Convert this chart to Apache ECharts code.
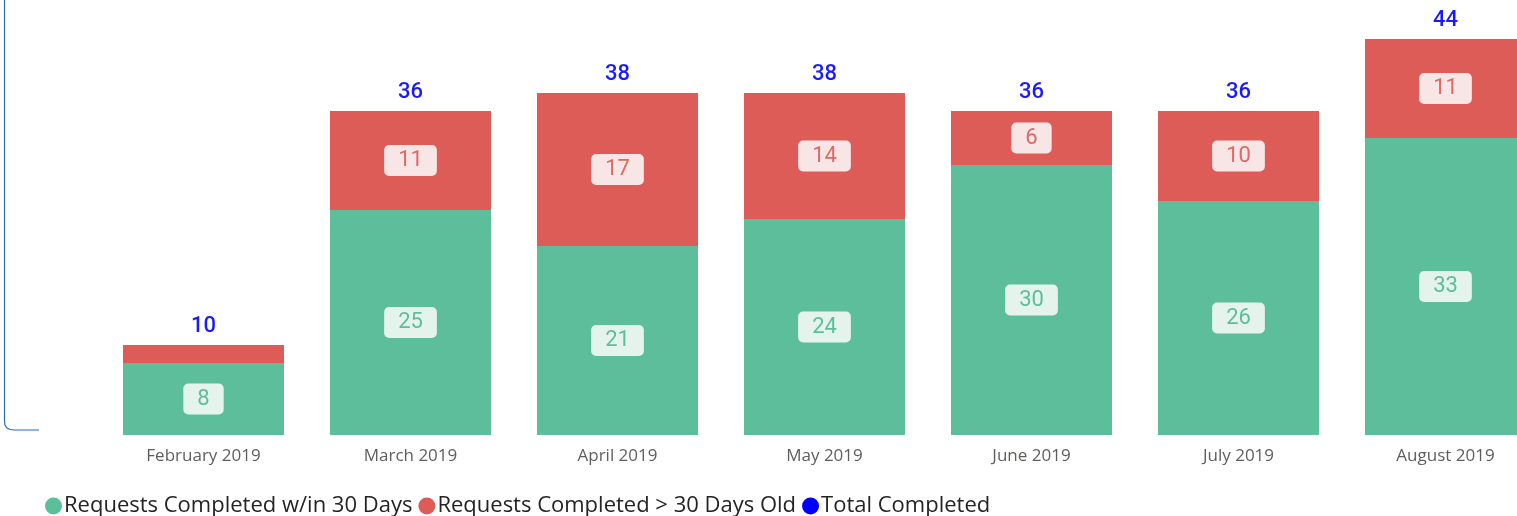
<!DOCTYPE html>
<html>
<head>
<meta charset="utf-8">
<script src="https://cdn.jsdelivr.net/npm/echarts@6/dist/echarts.min.js"></script>
<style>
  html, body { margin: 0; padding: 0; background: #fff; }
  #main { width: 1517px; height: 516px; }
</style>
</head>
<body>
<div id="main"></div>
<script>
// data
const months = ['February 2019', 'March 2019', 'April 2019', 'May 2019', 'June 2019', 'July 2019', 'August 2019'];
const within30 = [8, 25, 21, 24, 30, 26, 33];
const over30 = [2, 11, 17, 14, 6, 10, 11];
const totals = [10, 36, 38, 38, 36, 36, 44];

const numFont = 'Roboto';

const chart = echarts.init(document.getElementById('main'));

// small segments get no label (like the February red part)
const withLabels = (arr) => arr.map(v => v <= 2 ? { value: v, label: { show: false } } : v);

const option = {
  animation: false,
  // the last column runs past the right edge, so let the grid overflow
  grid: { left: 100, width: 1449, top: 39, bottom: 81, outerBoundsMode: 'none', containLabel: false },
  xAxis: {
    type: 'category',
    data: months,
    axisLine: { show: false },
    axisTick: { show: false },
    axisLabel: { color: '#605e5c', fontSize: 17, fontFamily: 'Open Sans', margin: 13 }
  },
  yAxis: {
    type: 'value',
    min: 0,
    max: 44,
    show: false,
    splitLine: { show: false }
  },
  legend: {
    left: 40,
    top: 490,
    icon: 'circle',
    itemWidth: 17,
    itemHeight: 17,
    itemGap: 6,
    textStyle: { color: '#252423', fontSize: 22, fontFamily: 'Open Sans', padding: [0, 0, 0, -3] },
    data: ['Requests Completed w/in 30 Days', 'Requests Completed > 30 Days Old', 'Total Completed']
  },
  series: [
    {
      name: 'Requests Completed w/in 30 Days',
      type: 'bar',
      stack: 'req',
      barWidth: 161,
      itemStyle: { color: '#5dbe9b' },
      label: {
        show: true,
        position: 'inside',
        color: '#5dbe9b',
        fontSize: 22,
        lineHeight: 22,
        fontFamily: numFont,
        backgroundColor: '#e4f4ed',
        borderRadius: 5,
        padding: [5, 14, 4, 14]
      },
      data: withLabels(within30)
    },
    {
      name: 'Requests Completed > 30 Days Old',
      type: 'bar',
      stack: 'req',
      barWidth: 161,
      itemStyle: { color: '#dd5c58' },
      label: {
        show: true,
        position: 'inside',
        color: '#dd6a64',
        fontSize: 22,
        lineHeight: 22,
        fontFamily: numFont,
        backgroundColor: '#f8e5e5',
        borderRadius: 5,
        padding: [5, 14, 4, 14]
      },
      data: withLabels(over30)
    },
    {
      name: 'Total Completed',
      type: 'line',
      symbol: 'circle',
      symbolSize: 0,
      itemStyle: { color: '#0000ff' },
      lineStyle: { width: 0 },
      label: {
        show: true,
        position: 'top',
        distance: 8,
        color: '#1a1aff',
        fontSize: 22,
        fontWeight: 500,
        fontFamily: numFont
      },
      data: totals
    }
  ],
  // blue frame corner of the selected visual
  graphic: [
    {
      type: 'polyline',
      shape: { points: [[4.5, 0], [4.5, 421], [5, 425], [7, 428], [10, 429.5], [14, 430], [39, 430]] },
      style: { fill: null, stroke: '#1f6fc5', lineWidth: 1.2 }
    }
  ]
};

chart.setOption(option);
</script>
</body>
</html>
